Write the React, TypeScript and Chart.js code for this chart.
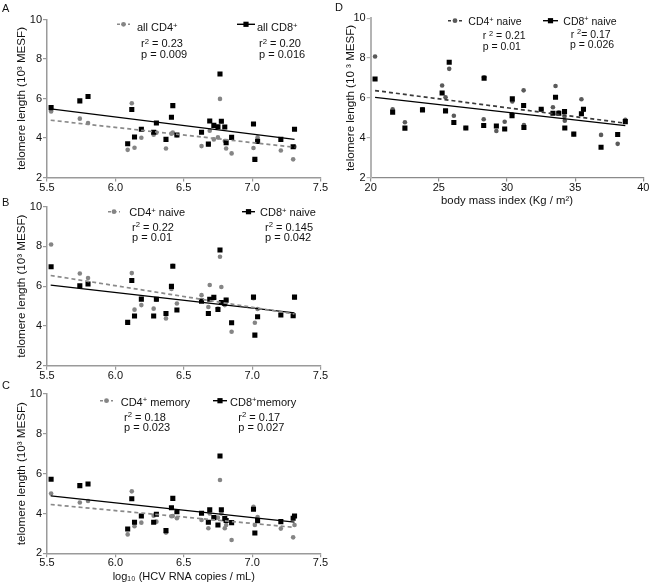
import React, { useEffect, useRef } from 'react';
import { Chart, registerables } from 'chart.js';

Chart.register(...registerables);

const FONT = '"Liberation Sans", Arial, Helvetica, sans-serif';

// ---------------- data ----------------
// log10 HCV RNA copies / mL (shared by panels A, B, C)
const hcvLog = [5.53, 5.74, 5.80, 6.09, 6.12, 6.14, 6.19, 6.28, 6.30, 6.37, 6.41, 6.42, 6.45, 6.63, 6.68, 6.69, 6.72, 6.75, 6.765, 6.775, 6.80, 6.81, 6.85, 7.01, 7.02, 7.04, 7.21, 7.30, 7.31];

// Panel A: all CD4+ / all CD8+
const cd4All = [5.34, 4.98, 4.76, 3.40, 5.76, 3.51, 4.01, 4.17, 4.27, 3.47, 4.22, 4.27, 4.14, 3.59, 3.68, 4.37, 3.93, 4.03, 5.98, 4.85, 3.85, 3.47, 3.22, 3.49, 2.92, 4.03, 3.37, 2.92, 3.56];
const cd8All = [5.54, 5.88, 6.10, 3.71, 5.44, 4.05, 4.44, 4.29, 4.76, 3.93, 5.05, 5.64, 4.15, 4.29, 3.69, 4.86, 4.64, 4.57, 7.24, 4.85, 4.56, 3.76, 4.03, 4.71, 2.92, 3.83, 3.93, 3.56, 4.44];

// Panel B: naive vs HCV RNA
const cd4NaiveHcv = [8.10, 6.64, 6.41, 4.18, 6.66, 4.82, 5.05, 4.87, 5.32, 4.38, 5.86, 7.03, 5.13, 5.55, 4.95, 6.06, 5.40, 4.88, 7.48, 5.96, 5.05, 5.30, 3.71, 5.39, 4.16, 4.85, 4.60, 4.51, 5.45];
const cd8NaiveHcv = [6.98, 6.02, 6.11, 4.18, 6.29, 4.50, 5.35, 4.50, 5.34, 4.63, 5.99, 7.00, 4.80, 5.25, 4.63, 5.34, 5.44, 4.83, 7.82, 5.18, 5.13, 5.30, 4.16, 5.45, 3.54, 4.46, 4.55, 4.51, 5.45];

// Panel C: memory vs HCV RNA
const cd4Memory = [5.00, 4.55, 4.63, 2.95, 5.11, 3.36, 3.54, 3.89, 3.59, 3.04, 3.86, 3.87, 3.76, 3.67, 3.26, 4.00, 3.76, 3.79, 5.68, 4.00, 3.26, 3.42, 2.67, 4.33, 3.42, 3.82, 3.24, 2.80, 3.42];
const cd8Memory = [5.72, 5.40, 5.48, 3.22, 4.74, 3.56, 3.87, 3.56, 3.96, 3.14, 4.29, 4.76, 4.09, 4.01, 3.56, 4.19, 3.79, 3.42, 6.89, 4.19, 3.74, 3.65, 3.54, 4.21, 3.02, 3.64, 3.59, 3.76, 3.87];

// Panel D: naive vs body mass index
const bmi = [20.32, 21.61, 22.51, 23.80, 25.24, 25.49, 25.76, 26.10, 26.98, 28.29, 28.32, 29.22, 29.83, 30.37, 30.39, 31.22, 31.24, 32.51, 33.37, 33.56, 33.80, 34.22, 34.24, 34.90, 35.46, 35.61, 36.90, 38.12, 38.68];
const cd4NaiveBmi = [8.08, 5.43, 4.78, 5.43, 6.62, 6.03, 7.46, 5.10, 4.49, 4.93, 7.04, 4.34, 4.80, 5.18, 5.82, 6.38, 4.64, 5.43, 5.53, 6.60, 5.26, 5.06, 4.85, 4.18, 5.93, 5.40, 4.14, 3.69, 4.90];
const cd8NaiveBmi = [6.95, 5.28, 4.48, 5.40, 6.25, 5.35, 7.79, 4.76, 4.49, 4.61, 6.99, 4.59, 4.44, 5.11, 5.95, 5.62, 4.51, 5.43, 5.23, 6.03, 5.23, 5.31, 4.49, 4.18, 5.20, 5.43, 3.52, 4.16, 4.81];

// Regression lines (values at the ends of the x range)
const hcvFitRange = [5.527, 7.31];
const fitAllCd4 = [4.90, 3.53];
const fitAllCd8 = [5.47, 3.93];
const fitNaiveCd4 = [6.54, 4.60];
const fitNaiveCd8 = [6.05, 4.66];
const fitMemCd4 = [4.45, 3.30];
const fitMemCd8 = [4.88, 3.57];
const bmiFitRange = [20.32, 38.68];
const fitBmiCd4 = [6.37, 4.73];
const fitBmiCd8 = [6.03, 4.61];

// Tick labels
const hcvTicks = [5.5, 6.0, 6.5, 7.0, 7.5];
const bmiTicks = [20, 25, 30, 35, 40];
const yTicks = [2, 4, 6, 8, 10];

// ---------------- helpers ----------------
const toPts = (xs: number[], ys: number[]) => xs.map((x, i) => ({ x, y: ys[i] }));
const fitPts = (r: number[], ys: number[]) => [{ x: r[0], y: ys[0] }, { x: r[1], y: ys[1] }];

type Rect = { left: number; top: number; width: number; height: number };
type Area = { l: number; t: number; r: number; b: number };
type Sym = { x1: number; x2: number; y: number; kind: 'cd4' | 'cd8' };

type PanelCfg = {
  rect: Rect;
  area: Area;
  xs: number[];
  cd4: number[];
  cd8: number[];
  fitRange: number[];
  fit4: number[];
  fit8: number[];
  xTicks: number[];
  decimals: number;
  yTitle: string;
  yTitlePad: number;
  xTitle?: string;
  xTitlePad?: number;
  xTitleSize?: number;
  dotColor: string;
  dashColor: string;
  yAxisColor: string;
  yAxisWidth: number;
  xAxisColor: string;
  xAxisWidth: number;
  symbols: Sym[];
};

const GRAY_DOT = '#858585';
const GRAY_DASH = '#8a8a8a';

const panels: PanelCfg[] = [
  {
    rect: { left: 0, top: 0, width: 336, height: 196 },
    area: { l: 47, t: 19.5, r: 320.5, b: 177.5 },
    xs: hcvLog, cd4: cd4All, cd8: cd8All,
    fitRange: hcvFitRange, fit4: fitAllCd4, fit8: fitAllCd8,
    xTicks: hcvTicks, decimals: 1,
    yTitle: 'telomere length (10³ MESF)', yTitlePad: 15,
    dotColor: GRAY_DOT, dashColor: GRAY_DASH,
    yAxisColor: '#9a9a9a', yAxisWidth: 1.5, xAxisColor: '#9a9a9a', xAxisWidth: 1.5,
    symbols: [
      { x1: 117, x2: 130, y: 24.3, kind: 'cd4' },
      { x1: 237, x2: 255, y: 24.3, kind: 'cd8' },
    ],
  },
  {
    rect: { left: 0, top: 192, width: 336, height: 192 },
    area: { l: 47, t: 206.7, r: 320.5, b: 365.7 },
    xs: hcvLog, cd4: cd4NaiveHcv, cd8: cd8NaiveHcv,
    fitRange: hcvFitRange, fit4: fitNaiveCd4, fit8: fitNaiveCd8,
    xTicks: hcvTicks, decimals: 1,
    yTitle: 'telomere length (10³ MESF)', yTitlePad: 15,
    dotColor: GRAY_DOT, dashColor: GRAY_DASH,
    yAxisColor: '#9a9a9a', yAxisWidth: 1.5, xAxisColor: '#9a9a9a', xAxisWidth: 1.5,
    symbols: [
      { x1: 108, x2: 120, y: 211.7, kind: 'cd4' },
      { x1: 242, x2: 255, y: 211.7, kind: 'cd8' },
    ],
  },
  {
    rect: { left: 0, top: 384, width: 336, height: 202 },
    area: { l: 47, t: 394, r: 320.5, b: 553.3 },
    xs: hcvLog, cd4: cd4Memory, cd8: cd8Memory,
    fitRange: hcvFitRange, fit4: fitMemCd4, fit8: fitMemCd8,
    xTicks: hcvTicks, decimals: 1,
    yTitle: 'telomere length (10³ MESF)', yTitlePad: 15,
    xTitle: 'log₁₀ (HCV RNA copies / mL)', xTitlePad: 2.2, xTitleSize: 11,
    dotColor: GRAY_DOT, dashColor: GRAY_DASH,
    yAxisColor: '#9a9a9a', yAxisWidth: 1.5, xAxisColor: '#9a9a9a', xAxisWidth: 1.5,
    symbols: [
      { x1: 100, x2: 113, y: 400.7, kind: 'cd4' },
      { x1: 213, x2: 227, y: 400.7, kind: 'cd8' },
    ],
  },
  {
    rect: { left: 326, top: 0, width: 326, height: 210 },
    area: { l: 370.7, t: 18.3, r: 643.3, b: 177.5 },
    xs: bmi, cd4: cd4NaiveBmi, cd8: cd8NaiveBmi,
    fitRange: bmiFitRange, fit4: fitBmiCd4, fit8: fitBmiCd8,
    xTicks: bmiTicks, decimals: 0,
    yTitle: 'telomere length (10 ³ MESF)', yTitlePad: 18.3,
    xTitle: 'body mass index (Kg / m²)', xTitlePad: 2.5, xTitleSize: 11.3,
    dotColor: '#5a5a5a', dashColor: '#3a3a3a',
    yAxisColor: '#b4b4b4', yAxisWidth: 2, xAxisColor: '#8a8a8a', xAxisWidth: 1.2,
    symbols: [
      { x1: 448, x2: 462, y: 20.7, kind: 'cd4' },
      { x1: 543, x2: 558, y: 20.7, kind: 'cd8' },
    ],
  },
];

function Panel({ cfg }: { cfg: PanelCfg }) {
  const ref = useRef<HTMLCanvasElement | null>(null);

  useEffect(() => {
    const c = cfg;
    const { rect, area } = c;
    const symPlugin = {
      id: 'legendSymbols',
      afterDraw(chart: any) {
        const ctx = chart.ctx as CanvasRenderingContext2D;
        for (const s of c.symbols) {
          const x1 = s.x1 - rect.left;
          const x2 = s.x2 - rect.left;
          const y = s.y - rect.top;
          ctx.save();
          if (s.kind === 'cd4') {
            ctx.strokeStyle = c.dashColor;
            ctx.lineWidth = 1.6;
            ctx.setLineDash([3, 2.5]);
          } else {
            ctx.strokeStyle = '#000';
            ctx.lineWidth = 1.4;
            ctx.setLineDash([]);
          }
          ctx.beginPath();
          ctx.moveTo(x1, y);
          ctx.lineTo(x2, y);
          ctx.stroke();
          ctx.setLineDash([]);
          const cx = (x1 + x2) / 2;
          if (s.kind === 'cd4') {
            ctx.fillStyle = c.dotColor;
            ctx.beginPath();
            ctx.arc(cx, y, 2.4, 0, Math.PI * 2);
            ctx.fill();
          } else {
            ctx.fillStyle = '#000';
            ctx.fillRect(cx - 2.6, y - 2.6, 5.2, 5.2);
          }
          ctx.restore();
        }
      },
    };

    const tickFont = { family: FONT, size: 11, lineHeight: 1 };
    const yTitleFont = { family: FONT, size: 11.6, lineHeight: 1.2 };
    const xTitleFont = { family: FONT, size: c.xTitleSize || 11, lineHeight: 1.2 };

    const chart = new Chart(ref.current as HTMLCanvasElement, {
      type: 'scatter',
      data: {
        datasets: [
          {
            label: 'fit CD4',
            data: fitPts(c.fitRange, c.fit4),
            showLine: true,
            borderColor: c.dashColor,
            borderWidth: 1.7,
            borderDash: [4, 3],
            pointRadius: 0,
            order: 0,
          },
          {
            label: 'fit CD8',
            data: fitPts(c.fitRange, c.fit8),
            showLine: true,
            borderColor: '#000',
            borderWidth: 1.3,
            pointRadius: 0,
            order: 1,
          },
          {
            label: 'CD8',
            data: toPts(c.xs, c.cd8),
            pointStyle: 'rect',
            pointRadius: 3.6,
            backgroundColor: '#000',
            borderColor: '#000',
            pointBorderWidth: 0,
            order: 2,
          },
          {
            label: 'CD4',
            data: toPts(c.xs, c.cd4),
            pointStyle: 'circle',
            pointRadius: 2.3,
            backgroundColor: c.dotColor,
            borderColor: c.dotColor,
            pointBorderWidth: 0,
            order: 3,
          },
        ] as any,
      },
      options: {
        animation: false,
        responsive: false,
        events: [],
        layout: {
          padding: {
            left: 0,
            bottom: 0,
            top: area.t - rect.top,
            right: rect.left + rect.width - area.r,
          },
        },
        plugins: {
          legend: { display: false },
          tooltip: { enabled: false },
        },
        scales: {
          x: {
            type: 'linear',
            min: c.xTicks[0],
            max: c.xTicks[c.xTicks.length - 1],
            afterBuildTicks: (s: any) => {
              s.ticks = c.xTicks.map((v) => ({ value: v }));
            },
            afterFit: (s: any) => {
              s.height = rect.top + rect.height - area.b;
            },
            ticks: {
              autoSkip: false,
              maxRotation: 0,
              minRotation: 0,
              padding: 0.5,
              color: '#111',
              font: tickFont,
              callback: (v: any) => Number(v).toFixed(c.decimals),
            },
            grid: {
              display: true,
              drawOnChartArea: false,
              drawTicks: true,
              tickLength: 4,
              color: c.xAxisColor,
              lineWidth: 1.2,
            },
            border: { display: true, color: c.xAxisColor, width: c.xAxisWidth },
            title: c.xTitle
              ? {
                  display: true,
                  text: c.xTitle,
                  color: '#111',
                  font: xTitleFont,
                  padding: { top: 0, bottom: c.xTitlePad || 0 },
                }
              : { display: false },
          },
          y: {
            type: 'linear',
            min: yTicks[0],
            max: yTicks[yTicks.length - 1],
            afterBuildTicks: (s: any) => {
              s.ticks = yTicks.map((v) => ({ value: v }));
            },
            afterFit: (s: any) => {
              s.width = area.l - rect.left;
            },
            ticks: {
              autoSkip: false,
              padding: 1,
              color: '#111',
              font: tickFont,
              callback: (v: any) => String(v),
            },
            grid: {
              display: true,
              drawOnChartArea: false,
              drawTicks: true,
              tickLength: 4,
              color: c.yAxisColor,
              lineWidth: 1.2,
            },
            border: { display: true, color: c.yAxisColor, width: c.yAxisWidth },
            title: {
              display: true,
              text: c.yTitle,
              color: '#111',
              font: yTitleFont,
              padding: { top: c.yTitlePad, bottom: 0 },
            },
          },
        },
      } as any,
      plugins: [symPlugin],
    });
    return () => chart.destroy();
  }, [cfg]);

  return (
    <canvas
      ref={ref}
      width={cfg.rect.width}
      height={cfg.rect.height}
      style={{
        position: 'absolute',
        left: cfg.rect.left,
        top: cfg.rect.top,
        width: cfg.rect.width,
        height: cfg.rect.height,
      }}
    />
  );
}

const supStyle: React.CSSProperties = {
  fontSize: '0.7em',
  position: 'relative',
  top: '-0.45em',
  verticalAlign: 'baseline',
  lineHeight: 0,
};

function T({ x, y, size = 11, children }: { x: number; y: number; size?: number; children: React.ReactNode }) {
  return (
    <span
      style={{
        position: 'absolute',
        left: x,
        top: y,
        transform: 'translateY(-50%)',
        fontFamily: FONT,
        fontSize: size,
        lineHeight: 1,
        whiteSpace: 'nowrap',
        color: '#111',
      }}
    >
      {children}
    </span>
  );
}

const S = ({ c }: { c: string }) => <sup style={supStyle}>{c}</sup>;

export default function App() {
  return (
    <div
      style={{
        position: 'absolute',
        left: 0,
        top: 0,
        width: 652,
        height: 586,
        background: '#fff',
        overflow: 'hidden',
      }}
    >
      {panels.map((p, i) => (
        <Panel key={i} cfg={p} />
      ))}

      {/* panel letters */}
      <T x={2} y={8}>A</T>
      <T x={2} y={202}>B</T>
      <T x={2} y={385}>C</T>
      <T x={335} y={7}>D</T>

      {/* Panel A annotations */}
      <T x={137} y={27}>all CD4<S c="+" /></T>
      <T x={141} y={43}>r<S c="2" /> = 0.23</T>
      <T x={141} y={53.5}>p = 0.009</T>
      <T x={257} y={27}>all CD8<S c="+" /></T>
      <T x={259} y={43}>r<S c="2" /> = 0.20</T>
      <T x={259} y={53.5}>p = 0.016</T>

      {/* Panel B annotations */}
      <T x={129.3} y={212.3}>CD4<S c="+" /> naive</T>
      <T x={132} y={226.7}>r<S c="2" /> = 0.22</T>
      <T x={132} y={236.7}>p = 0.01</T>
      <T x={260} y={212.3}>CD8<S c="+" /> naive</T>
      <T x={265} y={226.7}>r<S c="2" /> = 0.145</T>
      <T x={265} y={236.7}>p = 0.042</T>

      {/* Panel C annotations */}
      <T x={120.7} y={401.7}>CD4<S c="+" /> memory</T>
      <T x={124} y={416.7}>r<S c="2" /> = 0.18</T>
      <T x={124} y={427.3}>p = 0.023</T>
      <T x={230} y={401.7}>CD8<S c="+" />memory</T>
      <T x={238.3} y={416.7}>r<S c="2" /> = 0.17</T>
      <T x={238.3} y={427.3}>p = 0.027</T>

      {/* Panel D annotations */}
      <T x={468.3} y={21} size={10.5}>CD4<S c="+" /> naive</T>
      <T x={482.7} y={35} size={10.5}>r <S c="2" /> = 0.21</T>
      <T x={482.7} y={45.7} size={10.5}>p = 0.01</T>
      <T x={563.3} y={20.7} size={10.5}>CD8<S c="+" /> naive</T>
      <T x={570.7} y={33.5} size={10.5}>r <S c="2" />= 0.17</T>
      <T x={570} y={43.5} size={10.5}>p = 0.026</T>
    </div>
  );
}
